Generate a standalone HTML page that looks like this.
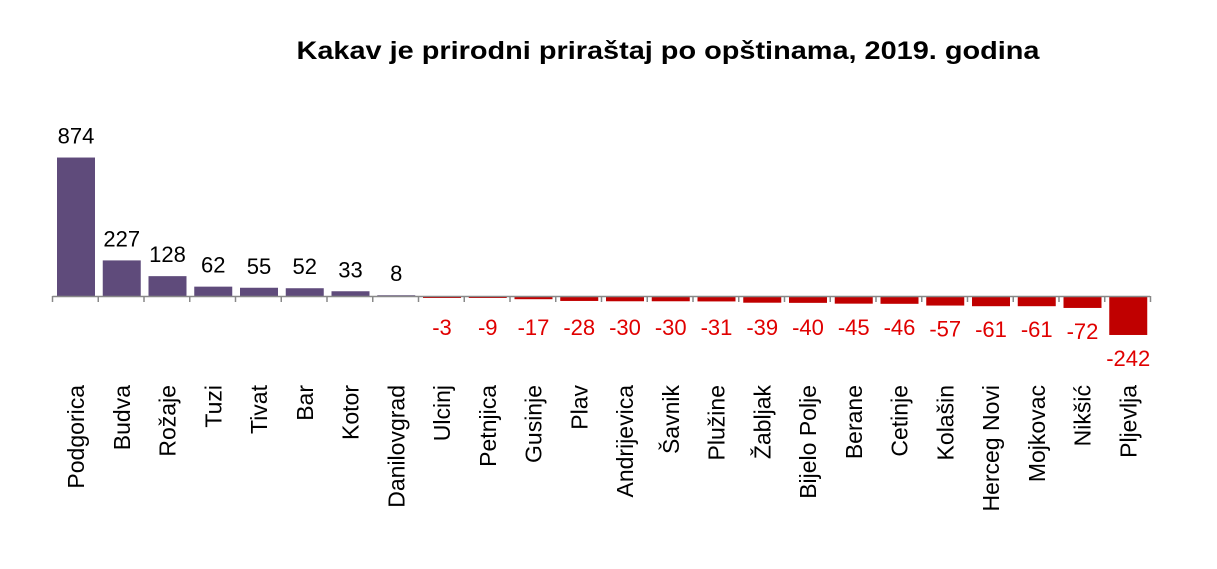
<!DOCTYPE html>
<html><head><meta charset="utf-8"><style>
html,body{margin:0;padding:0;background:#fff;}
svg{display:block;font-family:"Liberation Sans",Arial,sans-serif;}
</style></head><body>
<svg id="c" width="1217" height="569" viewBox="0 0 1217 569" xmlns="http://www.w3.org/2000/svg">
<text x="668" y="59" text-anchor="middle" font-size="25" font-weight="bold" textLength="743" lengthAdjust="spacingAndGlyphs" fill="#000">Kakav je prirodni priraštaj po opštinama, 2019. godina</text>
</svg>
<script>
var names=["Podgorica","Budva","Rožaje","Tuzi","Tivat","Bar","Kotor","Danilovgrad","Ulcinj","Petnjica","Gusinje","Plav","Andrijevica","Šavnik","Plužine","Žabljak","Bijelo Polje","Berane","Cetinje","Kolašin","Herceg Novi","Mojkovac","Nikšić","Pljevlja"];
var vals=[874,227,128,62,55,52,33,8,-3,-9,-17,-28,-30,-30,-31,-39,-40,-45,-46,-57,-61,-61,-72,-242];
var s=document.getElementById('c'),h='',y0=296.5,k=0.159,p=45.75;
for(var i=0;i<24;i++){
 var v=vals[i],x=57+i*p,cx=x+19,hh=Math.abs(v)*k;
 if(v>=0){
  h+='<rect x="'+x+'" y="'+(y0-hh)+'" width="38" height="'+Math.max(hh,1)+'" fill="#5f4b7b"/>';
  h+='<text x="'+cx+'" y="'+(y0-hh-14)+'" text-anchor="middle" font-size="22" fill="#000">'+v+'</text>';
 }else{
  h+='<rect x="'+x+'" y="'+y0+'" width="38" height="'+Math.max(hh,1.5)+'" fill="#c00000"/>';
  h+='<text x="'+cx+'" y="'+Math.max(335,y0+hh+31)+'" text-anchor="middle" font-size="22" fill="#e00000">'+v+'</text>';
 }
 h+='<text transform="translate('+(cx+8)+',385) rotate(-90)" text-anchor="end" font-size="23" fill="#000">'+names[i]+'</text>';
}
h+='<line x1="52.5" y1="296.5" x2="1150" y2="296.5" stroke="#888" stroke-width="1.5"/>';
for(var j=0;j<=24;j++){var tx=52.5+j*p;h+='<line x1="'+tx+'" y1="296" x2="'+tx+'" y2="302" stroke="#888" stroke-width="1.5"/>';}
s.insertAdjacentHTML('beforeend',h);
</script>
</body></html>
